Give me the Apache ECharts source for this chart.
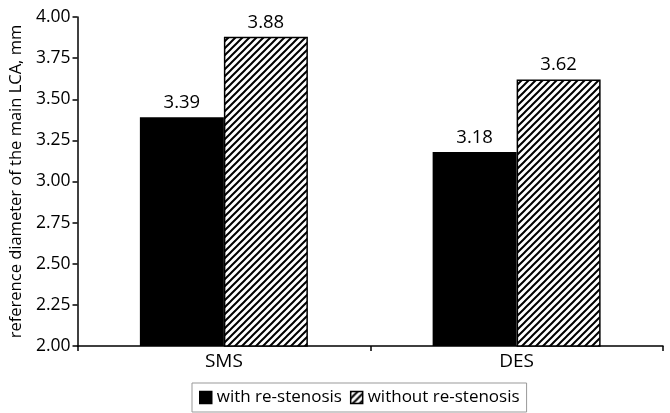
<!DOCTYPE html>
<html><head><meta charset="utf-8">
<script src="https://cdn.jsdelivr.net/npm/echarts@6/dist/echarts.min.js"></script>
<style>html,body{margin:0;padding:0;background:#fff}#c{width:670px;height:413px}</style>
</head><body><div id="c"></div>
<script>
const categories = ['SMS', 'DES'];
const withRestenosis = [3.39, 3.18];
const withoutRestenosis = [3.88, 3.62];
const seriesNames = ['with re-stenosis', 'without re-stenosis'];
const yTicks = {min: 2, max: 4, interval: 0.25};
const yName = 'reference diameter of the main LCA, mm';

function hatch() {
  const s = 7;
  const c = document.createElement('canvas');
  c.width = s; c.height = s;
  const g = c.getContext('2d');
  g.fillStyle = '#fff'; g.fillRect(0, 0, s, s);
  g.strokeStyle = '#000'; g.lineWidth = 2;
  g.beginPath();
  g.moveTo(-1, s + 1); g.lineTo(s + 1, -1);
  g.moveTo(-2, 2); g.lineTo(2, -2);
  g.moveTo(s - 2, s + 2); g.lineTo(s + 2, s - 2);
  g.stroke();
  return c;
}
const FONT = '"Open Sans", sans-serif';
const chart = echarts.init(document.getElementById('c'), null, {renderer: 'canvas'});
chart.setOption({
  animation: false,
  textStyle: {fontFamily: FONT, color: '#000'},
  grid: {left: 76, right: 7, top: 17, bottom: 67, containLabel: false},
  legend: {
    bottom: 1, left: 192,
    data: seriesNames,
    icon: 'rect', itemWidth: 12, itemHeight: 12, itemGap: 8, itemStyle: {borderColor: '#000', borderWidth: 1.5},
    borderColor: '#999', borderWidth: 1, padding: [6, 7],
    textStyle: {fontFamily: FONT, fontSize: 17, color: '#000'}
  },
  xAxis: {
    type: 'category', data: categories,
    axisLine: {lineStyle: {color: '#000', width: 1.5}},
    axisTick: {show: true, length: 5, lineStyle: {color: '#000', width: 1.5}},
    axisLabel: {fontFamily: FONT, fontSize: 19, color: '#000', margin: 6}
  },
  yAxis: {
    type: 'value', min: yTicks.min, max: yTicks.max, interval: yTicks.interval,
    name: yName, nameLocation: 'middle', nameGap: 52,
    nameTextStyle: {fontFamily: FONT, fontSize: 16.5, color: '#000'},
    axisLine: {show: true, lineStyle: {color: '#000', width: 1.5}},
    axisTick: {show: true, length: 5, lineStyle: {color: '#000', width: 1.5}},
    splitLine: {show: false},
    axisLabel: {fontFamily: FONT, fontSize: 17.5, color: '#000', margin: 7,
      formatter: v => v.toFixed(2)}
  },
  series: [
    {name: seriesNames[0], type: 'bar', data: withRestenosis, barWidth: 84, barGap: '0%',
      itemStyle: {color: '#000'},
      label: {show: true, position: 'top', distance: 5, fontFamily: FONT, fontSize: 18.5, color: '#000',
        formatter: p => p.value.toFixed(2)}},
    {name: seriesNames[1], type: 'bar', data: withoutRestenosis, barWidth: 84,
      itemStyle: {color: {image: hatch(), repeat: 'repeat'}, borderColor: '#000', borderWidth: 1.5},
      label: {show: true, position: 'top', distance: 5, fontFamily: FONT, fontSize: 18.5, color: '#000',
        formatter: p => p.value.toFixed(2)}}
  ]
});
</script></body></html>
